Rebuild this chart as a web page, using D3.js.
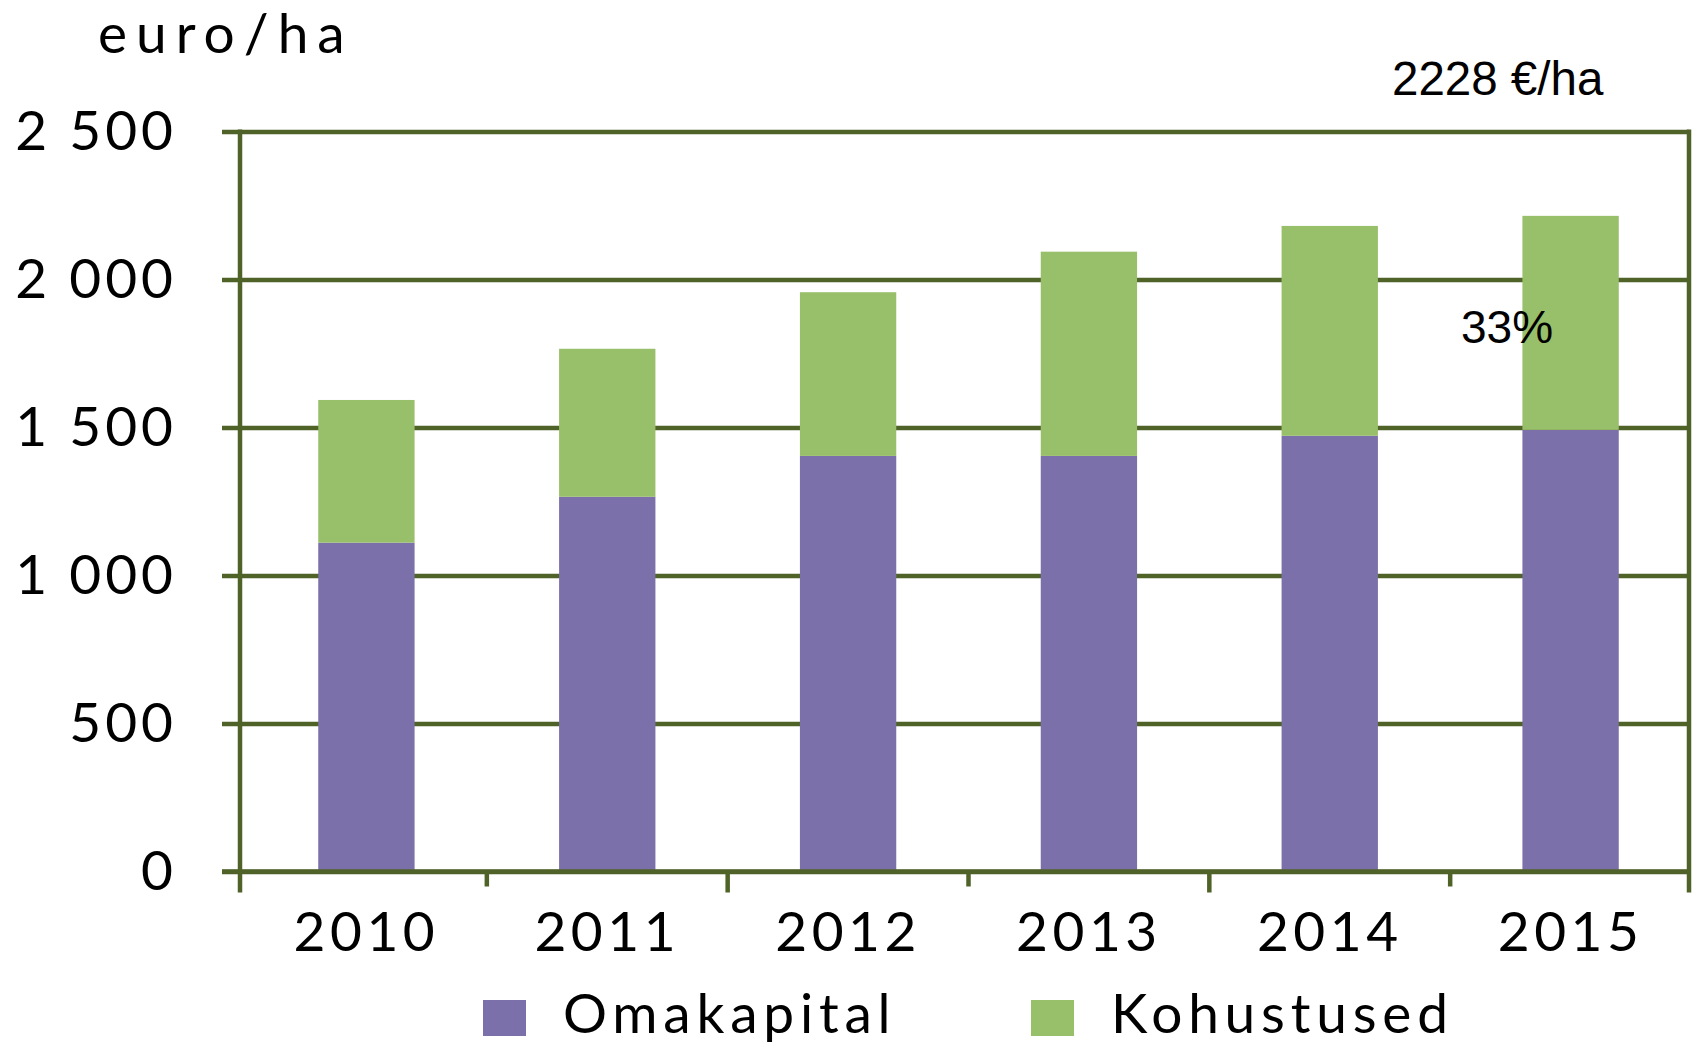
<!DOCTYPE html>
<meta charset="utf-8" />
<script src="https://d3js.org/d3.v7.min.js"></script>
<style>
  body { margin: 0; background: #fff; }
  svg { display: block; }
</style>
<div id="chart"></div>
<script>
  // data
  const years = ["2010", "2011", "2012", "2013", "2014", "2015"];
  const omakapital = [1111, 1266, 1404, 1404, 1472, 1492];
  const kohustused = [482, 500, 553, 690, 709, 723];
  const yTicks = [0, 500, 1000, 1500, 2000, 2500];
  const seriesNames = ["Omakapital", "Kohustused"];
  const seriesColors = ["#7b70a9", "#98bf69"];

  const W = 1693, H = 1046;
  const plotLeft = 240, plotRight = 1689, plotTop = 131.5, plotBottom = 871.5;
  const lineColor = "#4f6228";
  const font = "Lato, 'Open Sans', sans-serif";

  const svg = d3.select("#chart").append("svg")
    .attr("width", W).attr("height", H);

  const y = d3.scaleLinear().domain([0, 2500]).range([plotBottom, plotTop]);
  const x = d3.scaleBand().domain(years).range([246, plotRight + 2])
    .paddingInner(0.6).paddingOuter(0.3);

  const fmt = d3.formatLocale({ decimal: ",", thousands: " ", grouping: [3], currency: ["", ""] }).format(",");

  // gridlines + y labels
  const yAxis = svg.append("g")
    .attr("transform", "translate(222,0)")
    .call(d3.axisLeft(y).tickValues(yTicks).tickFormat(fmt)
      .tickSize(-(plotRight - 222)).tickPadding(45));
  yAxis.select(".domain").remove();
  yAxis.selectAll("line").attr("stroke", lineColor).attr("stroke-width", 4.5);
  yAxis.selectAll("text")
    .attr("font-family", font).attr("font-size", 55)
    .attr("letter-spacing", 4).attr("fill", "#000");

  // stacked bars
  const rows = years.map((d, i) => ({ year: d, Omakapital: omakapital[i], Kohustused: kohustused[i] }));
  const stack = d3.stack().keys(seriesNames)(rows);
  svg.append("g").selectAll("g").data(stack).join("g")
    .attr("fill", (d, i) => seriesColors[i])
    .selectAll("rect").data(d => d).join("rect")
    .attr("x", d => x(d.data.year))
    .attr("width", x.bandwidth())
    .attr("y", d => y(d[1]))
    .attr("height", d => y(d[0]) - y(d[1]));

  // left axis line and right frame line
  svg.append("line").attr("x1", plotLeft).attr("x2", plotLeft)
    .attr("y1", plotTop - 2).attr("y2", plotBottom + 21)
    .attr("stroke", lineColor).attr("stroke-width", 4.5);
  svg.append("line").attr("x1", plotRight).attr("x2", plotRight)
    .attr("y1", plotTop - 2).attr("y2", plotBottom + 21)
    .attr("stroke", lineColor).attr("stroke-width", 4.5);

  // x axis line and category boundary ticks
  svg.append("line").attr("x1", 222).attr("x2", plotRight)
    .attr("y1", plotBottom).attr("y2", plotBottom)
    .attr("stroke", lineColor).attr("stroke-width", 4.5);
  const bounds = years.slice(1).map(d => x(d) - (x.step() - x.bandwidth()) / 2);
  svg.append("g").selectAll("line").data(bounds).join("line")
    .attr("x1", d => d).attr("x2", d => d)
    .attr("y1", plotBottom).attr("y2", (d, i) => plotBottom + (i % 2 === 0 ? 15 : 21))
    .attr("stroke", lineColor).attr("stroke-width", 4.5);

  // x labels
  const xAxis = svg.append("g")
    .attr("transform", `translate(0,${plotBottom})`)
    .call(d3.axisBottom(x).tickSize(0).tickPadding(0));
  xAxis.select(".domain").remove();
  xAxis.selectAll("text")
    .attr("y", 79).attr("dy", 0)
    .attr("font-family", font).attr("font-size", 55)
    .attr("letter-spacing", 4.5).attr("fill", "#000");

  // axis title
  svg.append("text").attr("x", 98).attr("y", 53)
    .attr("font-family", font).attr("font-size", 55)
    .attr("letter-spacing", 9).text("euro/ha");

  // annotations
  svg.append("text").attr("x", 1392).attr("y", 95)
    .attr("font-family", "'Liberation Sans', Arial, sans-serif").attr("font-size", 47.5)
    .text("2228 €/ha");
  svg.append("text").attr("x", 1461).attr("y", 343)
    .attr("font-family", "'Liberation Sans', Arial, sans-serif").attr("font-size", 46)
    .text("33%");

  // legend
  const legendX = [483, 1031];
  const lg = svg.append("g").selectAll("g").data(seriesNames).join("g")
    .attr("transform", (d, i) => `translate(${legendX[i]},1000)`);
  lg.append("rect").attr("width", 43).attr("height", 36)
    .attr("fill", (d, i) => seriesColors[i]);
  lg.append("text").attr("x", 80).attr("y", 33)
    .attr("font-family", font).attr("font-size", 55)
    .attr("letter-spacing", 5.8).text(d => d);
</script>
